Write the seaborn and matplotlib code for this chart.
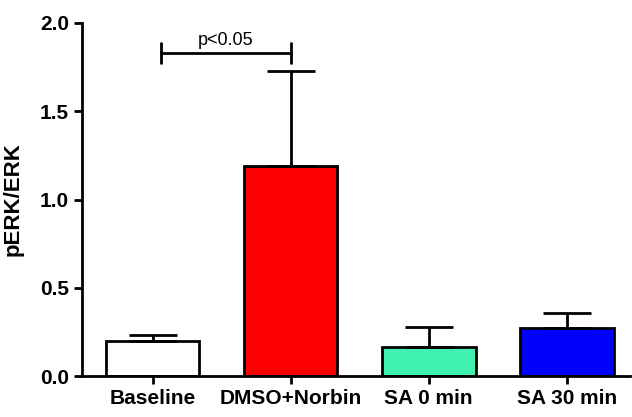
import matplotlib
matplotlib.use('Agg')
import matplotlib.pyplot as plt
import seaborn as sns
import numpy as np
import pandas as pd

groups = ['Baseline', 'DMSO+Norbin', 'SA 0 min', 'SA 30 min']
means = [0.198, 1.19, 0.164, 0.272]
sems = [0.034, 0.535, 0.113, 0.085]
colors = ['#FFFFFF', '#FF0000', '#40F0B0', '#0000FF']

sns.set_style('ticks', {'axes.edgecolor': 'black', 'text.color': 'black',
                        'xtick.color': 'black', 'ytick.color': 'black',
                        'axes.labelcolor': 'black'})
plt.rcParams['font.family'] = ['Liberation Sans', 'DejaVu Sans']

df = pd.DataFrame({'group': groups, 'pERK/ERK': means})

fig = plt.figure(figsize=(6.32, 4.17), dpi=100)
ax = fig.add_axes([0.13, 0.098, 0.867, 0.847])

sns.barplot(data=df, x='group', y='pERK/ERK', hue='group', palette=colors,
            order=groups, hue_order=groups, legend=False, errorbar=None,
            saturation=1, width=0.68, edgecolor='black', linewidth=2, ax=ax)

x = np.arange(len(groups))
ax.errorbar(x, means, yerr=[np.zeros(len(means)), sems], fmt='none',
            ecolor='black', elinewidth=2, capsize=17, capthick=2, zorder=1)

# significance bracket
y_br = 1.83
ax.plot([0.06, 1.0], [y_br, y_br], color='black', lw=2, clip_on=False)
for xb in [0.06, 1.0]:
    ax.plot([xb, xb], [y_br - 0.055, y_br + 0.055], color='black', lw=2, clip_on=False)
ax.text(0.53, y_br + 0.02, 'p<0.05', ha='center', va='bottom', fontsize=13)

ax.set_xlim(-0.51, 3.46)
ax.set_ylim(0, 2.0)
ax.set_yticks([0.0, 0.5, 1.0, 1.5, 2.0])
ax.set_yticklabels(['0.0', '0.5', '1.0', '1.5', '2.0'])
ax.set_xlabel('')
ax.set_ylabel('pERK/ERK', fontsize=16, fontweight='bold', labelpad=12)
ax.tick_params(axis='both', width=2, length=6, labelsize=15, direction='out')
for lab in ax.get_xticklabels() + ax.get_yticklabels():
    lab.set_fontweight('bold')
for s in ['top', 'right']:
    ax.spines[s].set_visible(False)
for s in ['left', 'bottom']:
    ax.spines[s].set_linewidth(2)

plt.savefig('out.png', dpi=100)
